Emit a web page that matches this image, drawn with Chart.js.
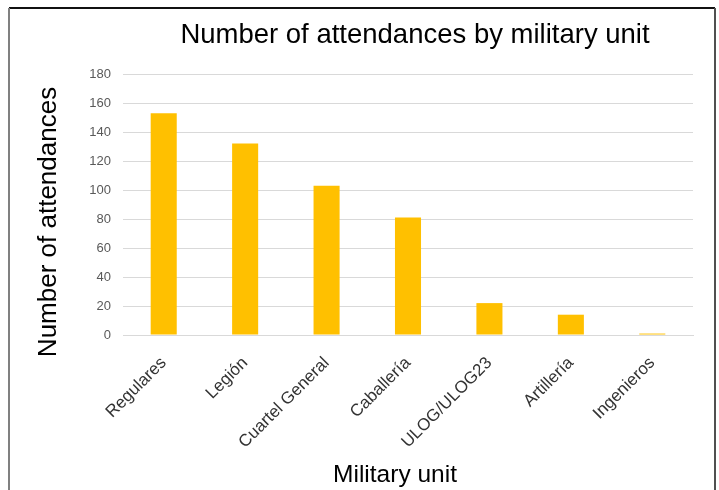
<!DOCTYPE html>
<html>
<head>
<meta charset="utf-8">
<script src="https://cdn.jsdelivr.net/npm/chart.js@4/dist/chart.umd.min.js"></script>
<style>
  html, body { margin: 0; padding: 0; background: #fff; }
  #wrap { position: relative; width: 719px; height: 490px; overflow: hidden; }
  #c { position: absolute; left: 0; top: 0; }
  .bt { position: absolute; left: 9px; top: 7px; width: 706px; height: 2px; background: #111; }
  .bl { position: absolute; left: 8px; top: 8px; width: 2px; height: 482px; background: #808080; }
  .br { position: absolute; left: 714px; top: 8px; width: 2px; height: 482px; background: #505050; }
</style>
</head>
<body>
<div id="wrap">
  <canvas id="c" width="719" height="490"></canvas>
  <div class="bt"></div><div class="bl"></div><div class="br"></div>
</div>
<script>
const categories = ["Regulares", "Legión", "Cuartel General", "Caballería", "ULOG/ULOG23", "Artillería", "Ingenieros"];
const attendances = [153, 132, 103, 81, 22, 14, 1];
const yTicks = [0, 20, 40, 60, 80, 100, 120, 140, 160, 180];
const chartTitle = "Number of attendances by military unit";
const xTitle = "Military unit";
const yTitle = "Number of attendances";

const titlesPlugin = {
  id: 'titles',
  afterDraw(chart) {
    const ctx = chart.ctx;
    ctx.save();
    ctx.fillStyle = '#000';
    ctx.textAlign = 'center';
    ctx.textBaseline = 'alphabetic';
    ctx.font = '27.5px "Liberation Sans", Arial, sans-serif';
    ctx.fillText(chartTitle, 415, 43);
    ctx.font = '24.5px "Liberation Sans", Arial, sans-serif';
    ctx.fillText(xTitle, 395, 482);
    ctx.translate(56, 222);
    ctx.rotate(-Math.PI / 2);
    ctx.font = '26px "Liberation Sans", Arial, sans-serif';
    ctx.fillText(yTitle, 0, 0);
    ctx.restore();
  }
};

new Chart(document.getElementById('c'), {
  type: 'bar',
  data: {
    labels: categories,
    datasets: [{
      data: attendances,
      backgroundColor: '#FFC000',
      borderWidth: 0,
      barPercentage: 1,
      categoryPercentage: 0.32
    }]
  },
  options: {
    responsive: false,
    animation: false,
    devicePixelRatio: 1,
    layout: { padding: { left: 0, right: 26, top: 74, bottom: 0 } },
    plugins: { legend: { display: false }, title: { display: false }, tooltip: { enabled: false } },
    scales: {
      x: {
        grid: { display: false, drawTicks: false },
        border: { display: true, color: '#d9d9d9', width: 1 },
        ticks: {
          color: '#333333',
          font: { family: '"Liberation Sans", Arial, sans-serif', size: 17 },
          minRotation: 45, maxRotation: 45, autoSkip: false, padding: 18
        },
        afterFit(scale) { scale.height = 155; }
      },
      y: {
        min: 0, max: 180,
        afterBuildTicks(scale) { scale.ticks = yTicks.map(v => ({ value: v })); },
        grid: { color: '#d9d9d9', lineWidth: 1, drawTicks: false },
        border: { display: false },
        ticks: {
          color: '#595959',
          font: { family: '"Liberation Sans", Arial, sans-serif', size: 13 },
          padding: 12
        },
        afterFit(scale) { scale.width = 123; }
      }
    }
  },
  plugins: [titlesPlugin]
});
</script>
</body>
</html>
